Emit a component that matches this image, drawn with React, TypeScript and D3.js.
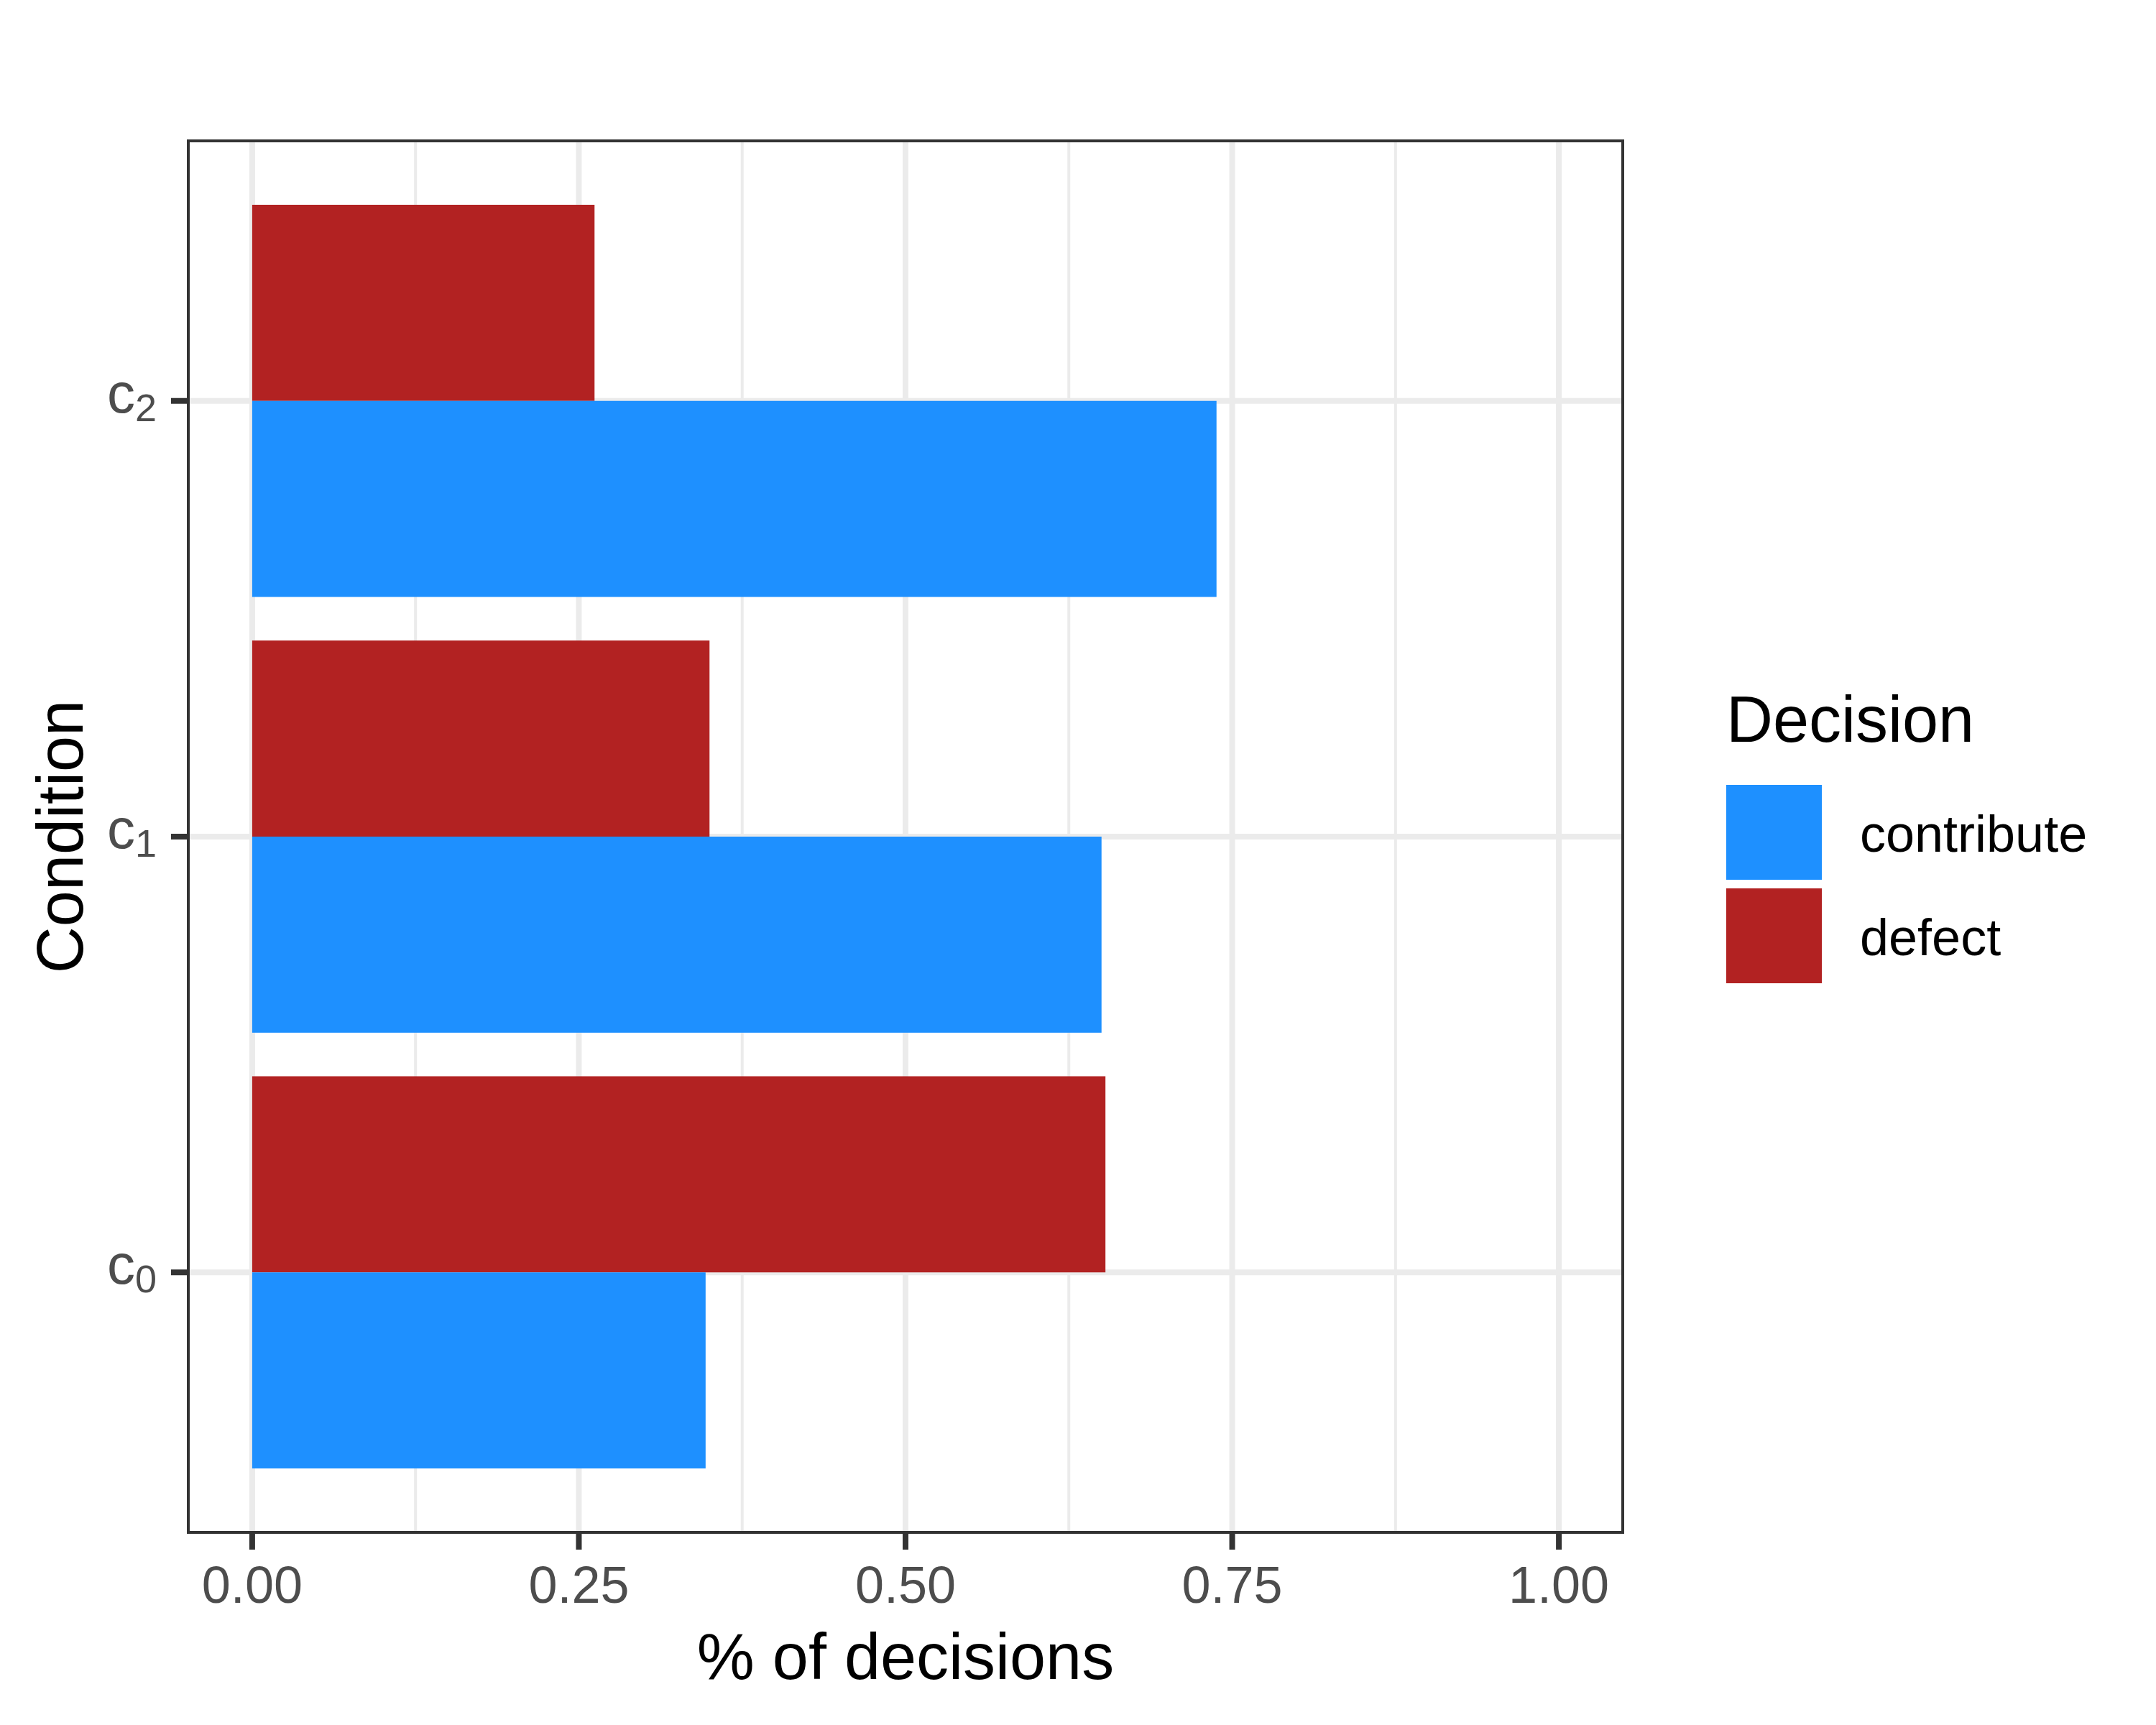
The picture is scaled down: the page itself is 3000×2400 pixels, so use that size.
import React from 'react';
import * as d3 from 'd3';

// condition subscripts, bottom to top
const conditions = ['0', '1', '2'];
const contribute = [0.347, 0.650, 0.738];
const defect = [0.653, 0.350, 0.262];

const xTicks = [0, 0.25, 0.5, 0.75, 1];
const xTickLabels = ['0.00', '0.25', '0.50', '0.75', '1.00'];
const xMinor = [0.125, 0.375, 0.625, 0.875];

const seriesNames = ['contribute', 'defect'];
const seriesColors = ['#1E90FF', '#B22222'];

const W = 3000;
const H = 2400;
const panel = { left: 260, right: 2260, top: 194, bottom: 2134 };
const font = '"Liberation Sans", Arial, Helvetica, sans-serif';

export default function App() {
  const x = d3.scaleLinear().domain([-0.05, 1.05]).range([panel.left, panel.right]);
  // category index -> y (c0 at the bottom)
  const y = d3.scaleLinear().domain([conditions.length - 1 + 0.6, -0.6]).range([panel.top, panel.bottom]);
  const half = 0.45;

  return (
    <svg
      width={W}
      height={H}
      style={{ position: 'absolute', left: 0, top: 0, background: '#fff' }}
      fontFamily={font}
    >
      <rect x={0} y={0} width={W} height={H} fill="#fff" />

      {/* grid */}
      {xMinor.map(v => (
        <line key={'mx' + v} x1={x(v)} x2={x(v)} y1={panel.top} y2={panel.bottom} stroke="#EBEBEB" strokeWidth={4} />
      ))}
      {xTicks.map(v => (
        <line key={'gx' + v} x1={x(v)} x2={x(v)} y1={panel.top} y2={panel.bottom} stroke="#EBEBEB" strokeWidth={8} />
      ))}
      {conditions.map((c, i) => (
        <line key={'gy' + c} x1={panel.left} x2={panel.right} y1={y(i)} y2={y(i)} stroke="#EBEBEB" strokeWidth={8} />
      ))}

      {/* bars */}
      {conditions.map((c, i) => (
        <g key={'bar' + c}>
          <rect
            x={x(0)}
            y={y(i + half)}
            width={x(defect[i]) - x(0)}
            height={y(i) - y(i + half)}
            fill={seriesColors[1]}
          />
          <rect
            x={x(0)}
            y={y(i)}
            width={x(contribute[i]) - x(0)}
            height={y(i - half) - y(i)}
            fill={seriesColors[0]}
          />
        </g>
      ))}

      {/* panel border (inner half visible, as when clipped) */}
      <rect
        x={panel.left + 2}
        y={panel.top + 2}
        width={panel.right - panel.left - 4}
        height={panel.bottom - panel.top - 4}
        fill="none"
        stroke="#333333"
        strokeWidth={4}
      />

      {/* x axis */}
      {xTicks.map((v, i) => (
        <g key={'xt' + v}>
          <line x1={x(v)} x2={x(v)} y1={panel.bottom} y2={panel.bottom + 22} stroke="#333333" strokeWidth={8} />
          <text x={x(v)} y={2230} textAnchor="middle" fontSize={72} fill="#4D4D4D">
            {xTickLabels[i]}
          </text>
        </g>
      ))}
      <text x={(panel.left + panel.right) / 2} y={2336} textAnchor="middle" fontSize={90} fill="#000">
        % of decisions
      </text>

      {/* y axis */}
      {conditions.map((c, i) => (
        <g key={'yt' + c}>
          <line x1={panel.left - 22} x2={panel.left} y1={y(i)} y2={y(i)} stroke="#333333" strokeWidth={8} />
          <text x={218} y={y(i) + 16} textAnchor="end" fontSize={78} fill="#4D4D4D">
            c<tspan fontSize={54} dy={12}>{c}</tspan>
          </text>
        </g>
      ))}
      <text
        transform={`translate(115,${(panel.top + panel.bottom) / 2}) rotate(-90)`}
        textAnchor="middle"
        fontSize={90}
        fill="#000"
      >
        Condition
      </text>

      {/* legend */}
      <text x={2402} y={1032} fontSize={90} fill="#000">Decision</text>
      {seriesNames.map((s, i) => (
        <g key={'lg' + s}>
          <rect x={2402} y={1092 + i * 144} width={133} height={132} fill={seriesColors[i]} />
          <text x={2588} y={1185 + i * 144} fontSize={72} fill="#000">{s}</text>
        </g>
      ))}
    </svg>
  );
}
